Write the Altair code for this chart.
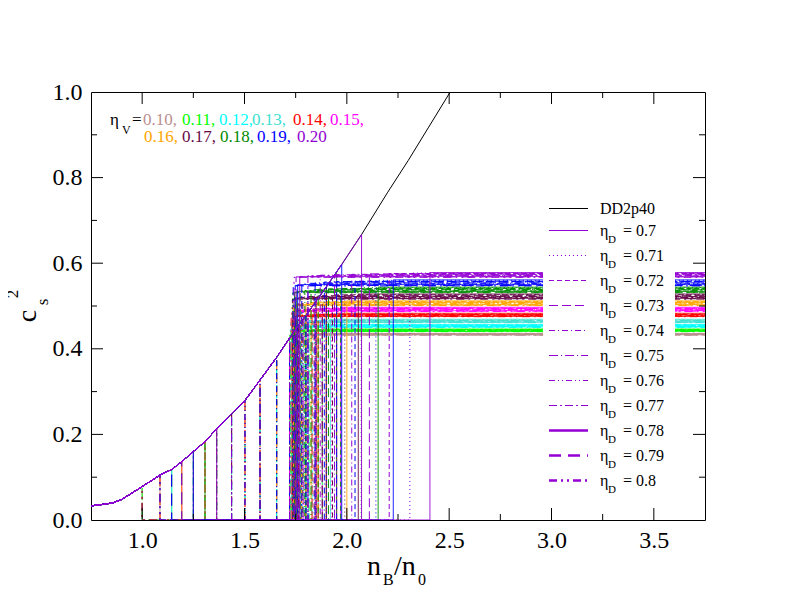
import numpy as np
import pandas as pd
import altair as alt

FONT = "Liberation Serif"

# ---------------- data ----------------
ETA_V = ["0.10", "0.11", "0.12", "0.13", "0.14", "0.15", "0.16", "0.17", "0.18", "0.19", "0.20"]
ETA_D = ["0.7", "0.71", "0.72", "0.73", "0.74", "0.75", "0.76", "0.77", "0.78", "0.79", "0.8"]

COLORS = ["#bc8f8f", "#00ff00", "#00ffff", "#40e0d0", "#ff0000", "#ff00ff",
          "#ffa500", "#670748", "#008b00", "#0000ff", "#9400d3"]

# DD2p40 hadronic curve
DD2_N = [0.75, 0.80, 0.857, 0.90, 1.00, 1.087, 1.144, 1.193, 1.25, 1.307, 1.364, 1.437,
         1.502, 1.576, 1.657, 1.72, 1.80, 1.90, 1.975, 2.072, 2.20, 2.30, 2.40, 2.505]
DD2_C = [0.033, 0.036, 0.040, 0.048, 0.078, 0.105, 0.118, 0.136, 0.160, 0.183, 0.213, 0.249,
         0.279, 0.327, 0.380, 0.425, 0.478, 0.545, 0.597, 0.667, 0.766, 0.840, 0.918, 1.0]

# onset density of the phase transition  [eta_V row][eta_D column]
N_ON = [
    [1.76, 1.72, 1.657, 1.576, 1.502, 1.364, 1.307, 1.193, 1.087, 1.0, 1.0],
    [1.80, 1.72, 1.657, 1.576, 1.502, 1.437, 1.307, 1.25, 1.144, 1.0, 1.0],
    [1.80, 1.76, 1.657, 1.576, 1.502, 1.437, 1.364, 1.25, 1.144, 1.087, 1.0],
    [1.85, 1.76, 1.72, 1.576, 1.502, 1.437, 1.364, 1.25, 1.144, 1.087, 1.0],
    [1.85, 1.80, 1.72, 1.657, 1.576, 1.502, 1.364, 1.307, 1.193, 1.087, 1.0],
    [1.90, 1.80, 1.72, 1.657, 1.576, 1.502, 1.437, 1.307, 1.193, 1.087, 1.0],
    [1.90, 1.85, 1.76, 1.657, 1.576, 1.502, 1.437, 1.307, 1.193, 1.087, 1.0],
    [1.90, 1.85, 1.76, 1.72, 1.657, 1.576, 1.437, 1.364, 1.25, 1.144, 1.0],
    [1.95, 1.85, 1.80, 1.72, 1.657, 1.576, 1.502, 1.364, 1.307, 1.193, 1.087],
    [1.975, 1.90, 1.80, 1.72, 1.657, 1.576, 1.502, 1.437, 1.25, 1.144, 1.087],
    [2.072, 1.95, 1.85, 1.76, 1.72, 1.576, 1.502, 1.437, 1.364, 1.193, 1.087],
]

# end density of the mixed phase
N_END = [
    [1.86, 1.83, 1.80, 1.78, 1.765, 1.755, 1.745, 1.737, 1.73, 1.725, 1.72],
    [1.88, 1.845, 1.815, 1.79, 1.772, 1.76, 1.75, 1.74, 1.732, 1.727, 1.722],
    [1.90, 1.86, 1.83, 1.80, 1.78, 1.765, 1.754, 1.744, 1.735, 1.729, 1.724],
    [1.92, 1.88, 1.845, 1.815, 1.79, 1.772, 1.758, 1.747, 1.738, 1.731, 1.726],
    [1.95, 1.90, 1.86, 1.83, 1.80, 1.78, 1.764, 1.75, 1.741, 1.733, 1.728],
    [1.97, 1.925, 1.88, 1.845, 1.81, 1.79, 1.77, 1.755, 1.744, 1.736, 1.73],
    [2.00, 1.95, 1.90, 1.86, 1.825, 1.80, 1.778, 1.76, 1.748, 1.739, 1.732],
    [2.056, 1.99, 1.93, 1.88, 1.84, 1.81, 1.785, 1.766, 1.752, 1.742, 1.734],
    [2.153, 2.07, 1.97, 1.91, 1.86, 1.825, 1.795, 1.772, 1.756, 1.745, 1.736],
    [2.227, 2.142, 2.04, 1.95, 1.89, 1.845, 1.81, 1.78, 1.76, 1.748, 1.738],
    [2.406, 2.308, 2.207, 2.11, 2.024, 1.94, 1.87, 1.81, 1.77, 1.752, 1.742],
]

# quark-phase plateau of c_s^2
PLATEAU = [
    [0.436, 0.436, 0.435, 0.435, 0.434, 0.434, 0.433, 0.433, 0.433, 0.432, 0.432],
    [0.446, 0.446, 0.445, 0.444, 0.444, 0.443, 0.442, 0.442, 0.441, 0.441, 0.440],
    [0.457, 0.456, 0.455, 0.455, 0.454, 0.453, 0.453, 0.452, 0.451, 0.451, 0.450],
    [0.469, 0.468, 0.467, 0.466, 0.465, 0.465, 0.464, 0.463, 0.462, 0.462, 0.461],
    [0.483, 0.482, 0.481, 0.480, 0.479, 0.479, 0.478, 0.477, 0.476, 0.476, 0.475],
    [0.497, 0.496, 0.495, 0.494, 0.493, 0.492, 0.491, 0.490, 0.489, 0.488, 0.487],
    [0.512, 0.511, 0.510, 0.509, 0.508, 0.507, 0.506, 0.504, 0.503, 0.502, 0.501],
    [0.528, 0.527, 0.526, 0.524, 0.523, 0.522, 0.521, 0.520, 0.518, 0.517, 0.516],
    [0.544, 0.543, 0.541, 0.540, 0.539, 0.538, 0.536, 0.535, 0.534, 0.532, 0.531],
    [0.561, 0.560, 0.558, 0.557, 0.556, 0.554, 0.553, 0.551, 0.550, 0.548, 0.547],
    [0.578, 0.577, 0.576, 0.575, 0.574, 0.573, 0.572, 0.571, 0.569, 0.568, 0.567],
]

X_MAJOR = [1.0, 1.5, 2.0, 2.5, 3.0, 3.5]
X_MINOR = [1.25, 1.75, 2.25, 2.75, 3.25]
Y_MAJOR = [0.2, 0.4, 0.6, 0.8]
Y_MINOR = [0.1, 0.3, 0.5, 0.7, 0.9]
X_LABELS = [1.0, 1.5, 2.0, 2.5, 3.0, 3.5]
Y_LABELS = [0.0, 0.2, 0.4, 0.6, 0.8, 1.0]

X_DOMAIN = [0.75, 3.75]
Y_DOMAIN = [0.0, 1.0]

# ---------------- styles ----------------
DASHES = [[1, 0], [1, 3], [5, 3], [9, 4], [6, 3, 1, 3], [9, 3, 1, 3],
          [6, 3, 1, 3, 1, 3], [8, 3, 2, 3], [1, 0], [12, 7], [8, 4, 2, 4, 2, 4]]
WIDTHS = [1, 1, 1, 1, 1, 1, 1, 1, 2.5, 2.5, 2.5]

W, H = 614, 428

# ---------------- build curve table ----------------
rows = []
cnum = 0
for i, v in enumerate(ETA_V):
    for j, d in enumerate(ETA_D):
        n1, n2, p = N_ON[i][j], N_END[i][j], PLATEAU[i][j]
        pts = [(n, c) for n, c in zip(DD2_N, DD2_C) if n < n1]
        pts += [(n1, float(np.interp(n1, DD2_N, DD2_C))), (n1, 0.0), (n2, 0.0),
                (n2, p), (X_DOMAIN[1], p)]
        for k, (n, c) in enumerate(pts):
            rows.append(dict(etaV=v, etaD=d, cid=cnum, idx=k, n=n, c=c))
        cnum += 1
curves = pd.DataFrame(rows)
dd2 = pd.DataFrame({"n": DD2_N, "c": DD2_C, "idx": list(range(len(DD2_N)))})

xscale = alt.Scale(domain=X_DOMAIN, nice=False, zero=False)
yscale = alt.Scale(domain=Y_DOMAIN, nice=False, zero=False)
xaxis = alt.Axis(values=X_LABELS, format=".1f", ticks=False, domain=False, grid=False,
                 labelFont=FONT, labelFontSize=24, labelColor="black", labelPadding=8,
                 labelFlush=False, title=None)
yaxis = alt.Axis(values=Y_LABELS, format=".1f", ticks=False, domain=False, grid=False,
                 labelFont=FONT, labelFontSize=24, labelColor="black", labelPadding=9,
                 labelFlush=False, title=None)

layers = []
layers.append(
    alt.Chart(dd2).mark_line(color="black", strokeWidth=1, clip=True).encode(
        x=alt.X("n:Q", scale=xscale, axis=xaxis),
        y=alt.Y("c:Q", scale=yscale, axis=yaxis),
        order="idx:Q",
    )
)
layers.append(
    alt.Chart(curves).mark_line(clip=True).encode(
        x=alt.X("n:Q", scale=xscale, axis=xaxis),
        y=alt.Y("c:Q", scale=yscale, axis=yaxis),
        color=alt.Color("etaV:N", scale=alt.Scale(domain=ETA_V, range=COLORS), legend=None),
        strokeDash=alt.StrokeDash("etaD:N", scale=alt.Scale(domain=ETA_D, range=DASHES), legend=None),
        strokeWidth=alt.StrokeWidth("etaD:O", scale=alt.Scale(domain=ETA_D, range=WIDTHS), legend=None),
        detail="cid:Q",
        order="idx:Q",
    )
)

# ---------------- ticks (inward, on all four sides) ----------------
def xticks(vals, length):
    df = pd.DataFrame({"n": vals})
    bottom = alt.Chart(df).mark_rule(color="black", strokeWidth=1).encode(
        x=alt.X("n:Q", scale=xscale, axis=xaxis), y=alt.value(H), y2=alt.value(H - length))
    top = alt.Chart(df).mark_rule(color="black", strokeWidth=1).encode(
        x=alt.X("n:Q", scale=xscale, axis=xaxis), y=alt.value(0), y2=alt.value(length))
    return [bottom, top]

def yticks(vals, length):
    df = pd.DataFrame({"c": vals})
    left = alt.Chart(df).mark_rule(color="black", strokeWidth=1).encode(
        y=alt.Y("c:Q", scale=yscale, axis=yaxis), x=alt.value(0), x2=alt.value(length))
    right = alt.Chart(df).mark_rule(color="black", strokeWidth=1).encode(
        y=alt.Y("c:Q", scale=yscale, axis=yaxis), x=alt.value(W), x2=alt.value(W - length))
    return [left, right]

layers += xticks(X_MAJOR, 12) + xticks(X_MINOR, 6) + yticks(Y_MAJOR, 12) + yticks(Y_MINOR, 6)

# ---------------- text helpers ----------------
ONE = pd.DataFrame({"a": [0]})

def txt(s, x, y, size, color="black", align="left", baseline="alphabetic", angle=0):
    kw = dict(text=s, align=align, baseline=baseline, font=FONT, fontSize=size, color=color)
    if angle:
        kw["angle"] = angle
    return alt.Chart(ONE).mark_text(**kw).encode(x=alt.value(x), y=alt.value(y))

# axis titles
layers += [
    txt("n", 276, 483, 28),
    txt("B", 292, 493, 16),
    txt("/n", 303, 483, 28),
    txt("0", 327, 493, 16),
    txt("c", -63, 224, 28, align="center", baseline="middle", angle=270),
    txt("s", -48, 210, 17, align="center", baseline="middle", angle=270),
    txt("2", -78, 202, 17, align="center", baseline="middle", angle=270),
]

# eta_V annotation
layers += [txt("\u03b7", 19, 33, 17), txt("V", 31, 42, 12), txt("=", 41, 33, 17)]
row1_x = [52, 91, 128, 161, 202, 239]
row2_x = [53, 91, 129, 166, 206]
for k, x in enumerate(row1_x):
    layers.append(txt(ETA_V[k] + ",", x, 33, 17, color=COLORS[k]))
for k, x in enumerate(row2_x):
    lab = ETA_V[6 + k] + ("," if k < 4 else "")
    layers.append(txt(lab, x, 50, 17, color=COLORS[6 + k]))

# legend (opaque white box as in the reference)
LX0, LX1, TX = 458, 497, 509
layers.append(alt.Chart(ONE).mark_rect(color="white").encode(
    x=alt.value(452), x2=alt.value(584), y=alt.value(103), y2=alt.value(403)))
legend_y = [116.5] + [138.5 + 25 * k for k in range(len(ETA_D))]
layers.append(alt.Chart(ONE).mark_rule(color="black", strokeWidth=1).encode(
    x=alt.value(LX0), x2=alt.value(LX1), y=alt.value(legend_y[0])))
layers.append(txt("DD2p40", TX, legend_y[0] + 5, 16))
for k, d in enumerate(ETA_D):
    y = legend_y[k + 1]
    layers.append(alt.Chart(ONE).mark_rule(color=COLORS[-1], strokeWidth=WIDTHS[k],
                                           strokeDash=DASHES[k]).encode(
        x=alt.value(LX0), x2=alt.value(LX1), y=alt.value(y)))
    layers.append(txt("\u03b7", TX, y + 5, 16))
    layers.append(txt("D", TX + 8, y + 12, 11))
    layers.append(txt("= " + d, TX + 23, y + 5, 16))

chart = alt.layer(*layers).properties(
    width=W, height=H,
    autosize=alt.AutoSizeParams(type="none"),
    padding={"left": 83, "top": 84, "right": 79, "bottom": 84},
).configure_view(stroke="black", strokeWidth=1)

chart.save("out.html", embed_options={"renderer": "svg", "actions": False})
